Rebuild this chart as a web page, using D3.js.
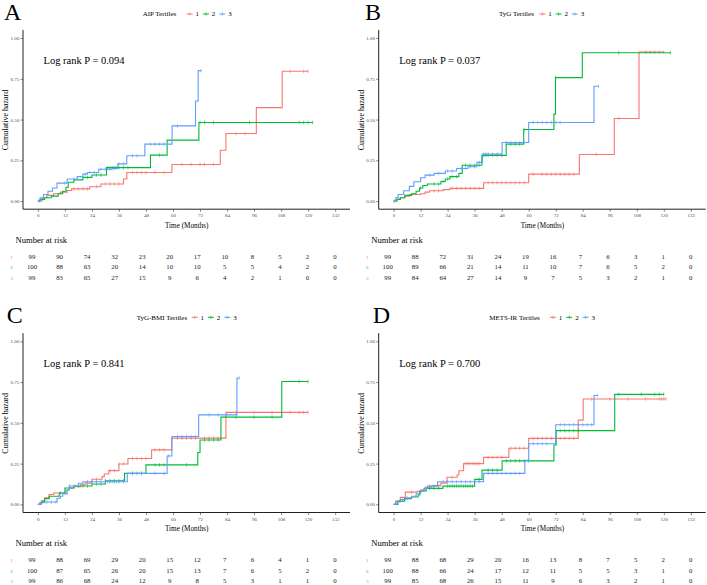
<!DOCTYPE html>
<html>
<head>
<meta charset="utf-8">
<script src="https://cdn.jsdelivr.net/npm/d3@7"></script>
<style>
  body { margin: 0; background: #fff; }
  text { font-family: 'Liberation Serif', 'DejaVu Serif', serif; }
</style>
</head>
<body>
<svg id="chart" width="707" height="585"></svg>
<script>
const width = 707;
const height = 585;
const serif = "'Liberation Serif', 'DejaVu Serif', serif";

// shared tick values
const timeTicks = [0, 12, 24, 36, 48, 60, 72, 84, 96, 108, 120, 132];
const hazardTicks = [0, 0.25, 0.5, 0.75, 1];
const groups = ['1', '2', '3'];
const colors = ['#F8766D', '#00BA38', '#619CFF'];

// panel A - AIP
const aipSteps = [
  [[0,0],[2,0.02],[4,0.035],[7,0.045],[10,0.055],[13,0.065],[15,0.075],[23,0.088],[28,0.105],[38,0.135],[39.5,0.175],[59.5,0.224],[81,0.312],[83.5,0.414],[97,0.573],[108.5,0.796]],
  [[0,0],[1,0.01],[3,0.02],[6,0.03],[9,0.045],[11,0.06],[12.5,0.085],[13.5,0.115],[16,0.13],[20,0.145],[24,0.16],[30.5,0.205],[50,0.282],[57.4,0.374],[71.5,0.482]],
  [[0,0],[1,0.02],[2.5,0.04],[4.5,0.06],[6.5,0.08],[8.5,0.11],[13,0.135],[17.5,0.15],[20,0.165],[22,0.175],[27,0.195],[33,0.2],[35.5,0.228],[39.5,0.278],[47.5,0.349],[59.6,0.461],[70,0.614],[71.2,0.8]]
];
const aipEnds = [120, 122, 72.5];
const aipCensor = [
  [16,18,20,22,26,30,32,34,36,42,44,46,48,52,56,64,68,72,74,78,88,92,112,118,120],
  [22,26,28,31,32,33,34,35,36,38,40,54,72,74,78,94,116,118,120,122],
  [0.5,12,16,21,23,25,28,30,32,34,36,38,42,44,50,52,54,56,62,72.5]
];
const aipRisk = [
  [99,90,74,32,23,20,17,10,8,5,2,0],
  [100,88,63,20,14,10,10,5,5,4,2,0],
  [99,83,65,27,15,9,6,4,2,1,0,0]
];

// panel B - TyG
const tygSteps = [
  [[0,0],[1.5,0.01],[3,0.02],[5,0.03],[7,0.04],[12,0.045],[14,0.055],[16,0.063],[22,0.07],[25,0.078],[40,0.112],[60,0.165],[82.5,0.286],[98,0.506],[109,0.914]],
  [[0,0],[1.5,0.01],[3,0.02],[5,0.035],[8,0.045],[10,0.06],[11.5,0.08],[13,0.095],[15,0.105],[21,0.12],[23,0.135],[25,0.15],[29,0.17],[30.5,0.22],[39.2,0.28],[50,0.349],[57.8,0.439],[71.2,0.533],[71.9,0.757],[83.8,0.91]],
  [[0,0],[1,0.02],[2,0.04],[4.5,0.063],[7,0.09],[9,0.118],[12,0.143],[14,0.159],[18,0.17],[23,0.184],[28,0.2],[33,0.21],[37,0.237],[39.5,0.288],[48.2,0.359],[60,0.482],[89,0.704]]
];
const tygEnds = [120, 123, 91];
const tygCensor = [
  [18,20,26,28,30,32,34,36,38,42,44,46,48,50,52,54,56,58,62,66,68,70,72,74,76,78,80,90,100,112,114,116,118,120],
  [12,18,20,22,24,26,28,32,34,36,38,40,41,42,44,46,48,52,54,56,58,72,100,123],
  [0.5,16,20,24,26,30,32,34,36,38,40,41,42,44,46,50,52,54,56,58,62,64,66,68,70,72,74,91]
];
const tygRisk = [
  [99,88,72,31,24,19,16,7,6,3,1,0],
  [100,89,66,21,14,11,10,7,6,5,2,0],
  [99,84,64,27,14,9,7,5,3,2,1,0]
];

// panel C - TyG-BMI
const tygBmiSteps = [
  [[0,0],[1.5,0.02],[3,0.04],[5,0.06],[7,0.07],[12.5,0.088],[14,0.1],[16,0.109],[19,0.12],[21,0.13],[24,0.154],[28.5,0.17],[29.5,0.186],[31.5,0.207],[36,0.248],[40,0.281],[50.5,0.334],[59.5,0.406],[83.5,0.564]],
  [[0,0],[1,0.01],[2,0.02],[3,0.035],[5,0.05],[9.5,0.07],[12,0.1],[16,0.113],[24,0.125],[30,0.145],[38.5,0.19],[48,0.242],[71,0.318],[72,0.395],[81.3,0.535],[108.3,0.754]],
  [[0,0],[1,0.01],[3,0.014],[8.5,0.037],[10,0.05],[11,0.064],[13,0.09],[14,0.113],[18,0.129],[20,0.139],[39.7,0.19],[57.4,0.297],[59.5,0.416],[71.4,0.549],[88.4,0.775]]
];
const tygBmiEnds = [120, 120, 89.4];
const tygBmiCensor = [
  [22,26,32,34,36,38,42,44,46,48,52,54,56,62,64,66,68,70,74,76,78,80,88,96,104,112,116,118,120],
  [10,18,20,22,26,28,30,32,34,36,38,42,44,46,52,54,56,66,74,76,78,80,88,96,104,116,120],
  [4,6,8,14,16,22,24,26,28,30,31,32,33,34,35,36,38,42,46,52,56,58,62,64,66,68,70,76,80,84,89.4]
];
const tygBmiRisk = [
  [99,88,69,29,20,15,12,7,6,4,1,0],
  [100,87,65,26,20,15,13,7,6,5,2,0],
  [99,86,68,24,12,9,8,5,3,1,1,0]
];

// panel D - METS-IR
const metsSteps = [
  [[0,0],[1,0.02],[3,0.043],[5.2,0.075],[10.5,0.08],[12.4,0.09],[14,0.105],[17,0.115],[21,0.13],[23.7,0.166],[28.2,0.18],[29,0.206],[31.1,0.25],[40,0.288],[51.2,0.344],[60,0.405],[82,0.517],[84.2,0.646]],
  [[0,0],[1.9,0.02],[4.9,0.035],[8,0.045],[10.9,0.057],[11.6,0.082],[14.5,0.098],[21.9,0.112],[36,0.153],[39.3,0.21],[48.2,0.267],[71.2,0.364],[72.2,0.452],[98.2,0.675]],
  [[0,0],[1,0.015],[3,0.03],[5.5,0.04],[8,0.05],[10,0.065],[12,0.08],[13.5,0.098],[15,0.112],[19.5,0.139],[40,0.19],[58.3,0.27],[60,0.372],[72,0.488],[89,0.668]]
];
const metsEnds = [121, 120, 90.6];
const metsCensor = [
  [8,16,20,26,32,33,34,35,36,37,38,42,44,46,48,52,54,56,58,62,64,66,68,70,74,76,78,80,88,96,104,112,118,119,120,121],
  [16,18,20,24,25,26,27,28,29,30,31,32,33,34,35,38,42,44,46,50,52,54,56,58,60,74,76,78,80,82,100,110,116,118,120],
  [4,6,12,16,18,22,24,26,28,30,32,34,36,38,42,44,46,48,50,52,54,56,62,64,66,68,74,76,78,80,82,84,86,88,90.6]
];
const metsRisk = [
  [99,88,68,29,20,16,13,8,7,5,2,0],
  [100,88,66,24,17,12,11,5,5,3,1,0],
  [99,85,68,26,15,11,9,6,3,2,1,0]
];

const panels = [
  { letter: 'A', legend: 'AIP Tertiles', pval: 'Log rank P = 0.094', steps: aipSteps, ends: aipEnds, censor: aipCensor, risk: aipRisk,
    dx: 0, dy: 0, letterX: 4, titleX: 142.7, keyX: 186.7 },
  { letter: 'B', legend: 'TyG Tertiles', pval: 'Log rank P = 0.037', steps: tygSteps, ends: tygEnds, censor: tygCensor, risk: tygRisk,
    dx: 355.7, dy: 0, letterX: 9.3, titleX: 143.3, keyX: 183.6 },
  { letter: 'C', legend: 'TyG-BMI Tertiles', pval: 'Log rank P = 0.841', steps: tygBmiSteps, ends: tygBmiEnds, censor: tygBmiCensor, risk: tygBmiRisk,
    dx: 0, dy: 303.3, letterX: 6.7, titleX: 136.7, keyX: 191.7 },
  { letter: 'D', legend: 'METS-IR Tertiles', pval: 'Log rank P = 0.700', steps: metsSteps, ends: metsEnds, censor: metsCensor, risk: metsRisk,
    dx: 355.7, dy: 303.3, letterX: 17, titleX: 133.6, keyX: 194.3 }
];

const svg = d3.select('#chart')
  .attr('viewBox', `0 0 ${width} ${height}`)
  .attr('font-family', serif);

panels.forEach(drawPanel);

function drawPanel(p) {
  const g = svg.append('g').attr('transform', `translate(${p.dx},${p.dy})`);

  const x = d3.scaleLinear().domain([-6.6, 138.6]).range([23, 350]);
  const y = d3.scaleLinear().domain([-0.05, 1.05]).range([209.2, 29.9]);
  const xRisk = d3.scaleLinear().domain([0, 132]).range([32, 335]);

  // panel letter
  g.append('text')
    .attr('x', p.letterX).attr('y', 19.5)
    .attr('font-size', 24)
    .text(p.letter);

  // legend
  g.append('text')
    .attr('x', p.titleX).attr('y', 16.4)
    .attr('font-size', 7)
    .text(p.legend);
  groups.forEach((lab, i) => {
    const kx = p.keyX + i * 16.3;
    g.append('line')
      .attr('x1', kx).attr('x2', kx + 6)
      .attr('y1', 14).attr('y2', 14)
      .attr('stroke', colors[i]).attr('stroke-width', 1);
    g.append('line')
      .attr('x1', kx + 3).attr('x2', kx + 3)
      .attr('y1', 12.5).attr('y2', 15.5)
      .attr('stroke', colors[i]).attr('stroke-width', 0.8);
    g.append('text')
      .attr('x', kx + 10.6).attr('y', 16.4)
      .attr('text-anchor', 'middle')
      .attr('font-size', 7)
      .text(lab);
  });

  // axes
  const yAxis = g.append('g')
    .attr('transform', 'translate(23,0)')
    .call(d3.axisLeft(y).tickValues(hazardTicks).tickFormat(d3.format('.2f')).tickSize(2.5).tickPadding(1.2));
  const xAxis = g.append('g')
    .attr('transform', 'translate(0,209.2)')
    .call(d3.axisBottom(x).tickValues(timeTicks).tickSize(2.5).tickPadding(2));
  [yAxis, xAxis].forEach(ax => {
    ax.attr('font-family', serif);
    ax.select('.domain').attr('stroke', '#222').attr('stroke-width', 1);
    ax.selectAll('.tick line').attr('stroke', '#333').attr('stroke-width', 0.6);
    ax.selectAll('.tick text')
      .attr('fill', '#4d4d4d')
      .attr('font-size', 5);
  });
  yAxis.select('.domain').attr('d', `M0,${y.range()[0]}V${y.range()[1]}`);
  xAxis.select('.domain').attr('d', `M${x.range()[0]},0H${x.range()[1]}`);

  g.append('text')
    .attr('transform', 'translate(8.3,120) rotate(-90)')
    .attr('text-anchor', 'middle')
    .attr('font-size', 8)
    .text('Cumulative hazard');
  g.append('text')
    .attr('x', 186.7).attr('y', 227.5)
    .attr('text-anchor', 'middle')
    .attr('font-size', 7.2)
    .text('Time (Months)');

  // curves
  const line = d3.line()
    .x(d => x(d[0]))
    .y(d => y(d[1]))
    .curve(d3.curveStepAfter);

  p.steps.forEach((steps, i) => {
    const last = steps[steps.length - 1];
    const pts = steps.concat([[p.ends[i], last[1]]]);
    g.append('path')
      .datum(pts)
      .attr('fill', 'none')
      .attr('stroke', colors[i])
      .attr('stroke-width', 1.1)
      .attr('d', line);

    const hazAt = t => {
      let h = 0;
      steps.forEach(s => { if (s[0] <= t) h = s[1]; });
      return h;
    };
    g.selectAll(null)
      .data(p.censor[i])
      .join('line')
      .attr('x1', d => x(d)).attr('x2', d => x(d))
      .attr('y1', d => y(hazAt(d)) - 1.8)
      .attr('y2', d => y(hazAt(d)) + 1.8)
      .attr('stroke', colors[i])
      .attr('stroke-width', 0.6);
  });

  g.append('text')
    .attr('x', 43.5).attr('y', 63.5)
    .attr('font-size', 10.5)
    .text(p.pval);

  // risk table
  g.append('text')
    .attr('x', 15.5).attr('y', 243)
    .attr('font-size', 8.6)
    .text('Number at risk');

  const rowY = [258.7, 269.3, 279.8];
  p.risk.forEach((row, i) => {
    g.append('text')
      .attr('x', 11.5).attr('y', rowY[i])
      .attr('text-anchor', 'middle')
      .attr('font-size', 5)
      .attr('fill', colors[i])
      .text(groups[i]);
    g.selectAll(null)
      .data(row)
      .join('text')
      .attr('x', (d, j) => xRisk(timeTicks[j]))
      .attr('y', rowY[i])
      .attr('text-anchor', 'middle')
      .attr('font-size', 6.8)
      .attr('fill', '#222')
      .text(d => d);
  });
}
</script>
</body>
</html>
